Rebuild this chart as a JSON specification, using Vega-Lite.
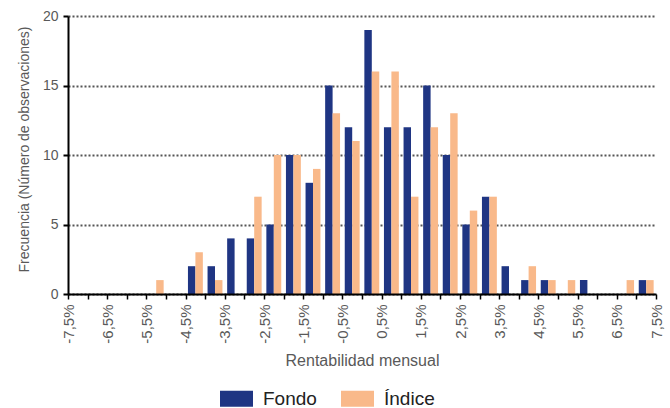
{
  "$schema": "https://vega.github.io/schema/vega-lite/v6.json",
  "autosize": {"type": "none"},
  "padding": {"left": 68, "top": 16, "right": 14, "bottom": 114},
  "width": 588,
  "height": 278,
  "config": {"view": {"stroke": null}, "font": "Liberation Sans"},
  "data": {"values": [
    {"desde": -7.5, "serie": "Fondo", "n": 0}, {"desde": -7.5, "serie": "Índice", "n": 0},
    {"desde": -7.0, "serie": "Fondo", "n": 0}, {"desde": -7.0, "serie": "Índice", "n": 0},
    {"desde": -6.5, "serie": "Fondo", "n": 0}, {"desde": -6.5, "serie": "Índice", "n": 0},
    {"desde": -6.0, "serie": "Fondo", "n": 0}, {"desde": -6.0, "serie": "Índice", "n": 0},
    {"desde": -5.5, "serie": "Fondo", "n": 0}, {"desde": -5.5, "serie": "Índice", "n": 1},
    {"desde": -5.0, "serie": "Fondo", "n": 0}, {"desde": -5.0, "serie": "Índice", "n": 0},
    {"desde": -4.5, "serie": "Fondo", "n": 2}, {"desde": -4.5, "serie": "Índice", "n": 3},
    {"desde": -4.0, "serie": "Fondo", "n": 2}, {"desde": -4.0, "serie": "Índice", "n": 1},
    {"desde": -3.5, "serie": "Fondo", "n": 4}, {"desde": -3.5, "serie": "Índice", "n": 0},
    {"desde": -3.0, "serie": "Fondo", "n": 4}, {"desde": -3.0, "serie": "Índice", "n": 7},
    {"desde": -2.5, "serie": "Fondo", "n": 5}, {"desde": -2.5, "serie": "Índice", "n": 10},
    {"desde": -2.0, "serie": "Fondo", "n": 10}, {"desde": -2.0, "serie": "Índice", "n": 10},
    {"desde": -1.5, "serie": "Fondo", "n": 8}, {"desde": -1.5, "serie": "Índice", "n": 9},
    {"desde": -1.0, "serie": "Fondo", "n": 15}, {"desde": -1.0, "serie": "Índice", "n": 13},
    {"desde": -0.5, "serie": "Fondo", "n": 12}, {"desde": -0.5, "serie": "Índice", "n": 11},
    {"desde": 0.0, "serie": "Fondo", "n": 19}, {"desde": 0.0, "serie": "Índice", "n": 16},
    {"desde": 0.5, "serie": "Fondo", "n": 12}, {"desde": 0.5, "serie": "Índice", "n": 16},
    {"desde": 1.0, "serie": "Fondo", "n": 12}, {"desde": 1.0, "serie": "Índice", "n": 7},
    {"desde": 1.5, "serie": "Fondo", "n": 15}, {"desde": 1.5, "serie": "Índice", "n": 12},
    {"desde": 2.0, "serie": "Fondo", "n": 10}, {"desde": 2.0, "serie": "Índice", "n": 13},
    {"desde": 2.5, "serie": "Fondo", "n": 5}, {"desde": 2.5, "serie": "Índice", "n": 6},
    {"desde": 3.0, "serie": "Fondo", "n": 7}, {"desde": 3.0, "serie": "Índice", "n": 7},
    {"desde": 3.5, "serie": "Fondo", "n": 2}, {"desde": 3.5, "serie": "Índice", "n": 0},
    {"desde": 4.0, "serie": "Fondo", "n": 1}, {"desde": 4.0, "serie": "Índice", "n": 2},
    {"desde": 4.5, "serie": "Fondo", "n": 1}, {"desde": 4.5, "serie": "Índice", "n": 1},
    {"desde": 5.0, "serie": "Fondo", "n": 0}, {"desde": 5.0, "serie": "Índice", "n": 1},
    {"desde": 5.5, "serie": "Fondo", "n": 1}, {"desde": 5.5, "serie": "Índice", "n": 0},
    {"desde": 6.0, "serie": "Fondo", "n": 0}, {"desde": 6.0, "serie": "Índice", "n": 0},
    {"desde": 6.5, "serie": "Fondo", "n": 0}, {"desde": 6.5, "serie": "Índice", "n": 1},
    {"desde": 7.0, "serie": "Fondo", "n": 1}, {"desde": 7.0, "serie": "Índice", "n": 1}
  ]},
  "layer": [
    {
      "mark": {"type": "bar"},
      "encoding": {
        "x": {"field": "desde", "type": "ordinal", "sort": "ascending", "scale": {"paddingInner": 0.24, "paddingOuter": 0.12}, "axis": null},
        "xOffset": {"field": "serie", "type": "nominal", "sort": ["Fondo", "Índice"], "scale": {"paddingInner": 0, "paddingOuter": 0}},
        "y": {
          "field": "n", "type": "quantitative",
          "scale": {"domain": [0, 20], "nice": false},
          "axis": {
            "values": [0, 5, 10, 15, 20],
            "title": "Frecuencia (Número de observaciones)",
            "titleFontSize": 14, "titleFontWeight": "normal", "titleColor": "#595959", "titlePadding": 11, "titleY": 133,
            "labelFontSize": 14, "labelColor": "#595959", "labelPadding": 5,
            "domainColor": "#000000", "domainWidth": 2,
            "tickColor": "#000000", "tickWidth": 2, "tickSize": 5,
            "grid": true, "gridColor": "#555555", "gridWidth": 2, "gridDash": [2, 2]
          }
        },
        "color": {
          "field": "serie", "type": "nominal",
          "scale": {"domain": ["Fondo", "Índice"], "range": ["#1F3583", "#F9B98A"]},
          "legend": {
            "orient": "none", "direction": "horizontal", "legendX": 152, "legendY": 366,
            "title": null,
            "symbolType": "M-1,-0.485L1,-0.485L1,0.485L-1,0.485Z",
            "symbolSize": 1089, "symbolStrokeWidth": 0, "symbolOpacity": 1,
            "labelFontSize": 19, "labelColor": "#222222", "labelOffset": 10, "columnPadding": 24
          }
        }
      }
    },
    {
      "mark": {"type": "rule", "opacity": 0},
      "encoding": {
        "x": {
          "field": "desde", "type": "quantitative",
          "scale": {"domain": [-7.5, 7.5], "nice": false, "zero": false},
          "axis": {
            "values": [-7.5, -7, -6.5, -6, -5.5, -5, -4.5, -4, -3.5, -3, -2.5, -2, -1.5, -1, -0.5, 0, 0.5, 1, 1.5, 2, 2.5, 3, 3.5, 4, 4.5, 5, 5.5, 6, 6.5, 7, 7.5],
            "labelExpr": "(datum.value * 2) % 2 != 0 ? (datum.value < 0 ? '-' : '') + replace(format(abs(datum.value), '.1f'), '.', ',') + '%' : ''",
            "labelAngle": -90, "labelAlign": "right", "labelBaseline": "middle",
            "labelFontSize": 15, "labelColor": "#595959", "labelPadding": 5, "labelOverlap": false,
            "domainColor": "#000000", "domainWidth": 2,
            "tickColor": "#000000", "tickWidth": 1.5, "tickSize": 5,
            "grid": false, "zindex": 1,
            "title": "Rentabilidad mensual", "titleFontSize": 16, "titleFontWeight": "normal", "titleColor": "#595959", "titlePadding": 9
          }
        }
      }
    }
  ],
  "resolve": {"scale": {"x": "independent"}}
}
